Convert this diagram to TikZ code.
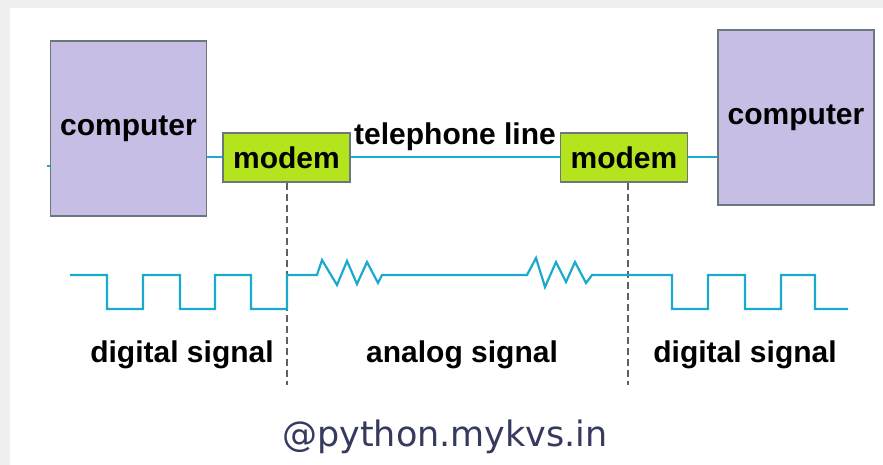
\documentclass[tikz,border=0pt]{standalone}
\usepackage{fontspec}
\setmainfont{Liberation Sans}
\newfontfamily\wmfont{DejaVu Sans}
\definecolor{bggrey}{HTML}{F0F0F0}
\definecolor{pcfill}{HTML}{C7BEE5}
\definecolor{boxedge}{HTML}{6A777C}
\definecolor{modfill}{HTML}{B4E41E}
\definecolor{sig}{HTML}{1AAACE}
\definecolor{dashgrey}{HTML}{606060}
\definecolor{wmcol}{HTML}{353A5E}
\tikzset{
  pc/.style={draw=boxedge, line width=1.5pt, fill=pcfill, minimum width=156pt, minimum height=175pt, inner sep=0pt,
    font=\fontsize{30}{32}\selectfont\bfseries},
  modembox/.style={draw=boxedge, line width=1.5pt, fill=modfill, minimum width=127pt, minimum height=49pt, inner sep=0pt,
    font=\fontsize{30}{32}\selectfont\bfseries},
  lbl/.style={font=\fontsize{30}{32}\selectfont\bfseries, inner sep=0pt},
  wire/.style={draw=sig, line width=2pt},
  sigline/.style={draw=sig, line width=2.2pt, line join=miter},
  divider/.style={draw=dashgrey, line width=1.3pt, dash pattern=on 7pt off 4pt},
}
\begin{document}
\begin{tikzpicture}[x=1pt,y=-1pt]
\useasboundingbox (0,0) rectangle (883,465);
\fill[bggrey] (0,0) rectangle (883,465);
\fill[white] (10,8) rectangle (883,465);

% nodes
\node[pc] (compL) at (128.5,128.5) {computer};
\node[pc] (compR) at (796,117.5) {computer};
\node[modembox] (modL) at (286.5,157.5) {modem};
\node[modembox] (modR) at (624,157.5) {modem};
\node[lbl] (tel) at (455,137) {telephone line};

% wires
\draw[wire] (modL.west) -- (modL.west -| compL.east);
\draw[wire] (modL.east) -- (modR.west);
\draw[wire] (modR.east) -- (modR.east -| compR.west);
\coordinate (stub) at (47,166);
\draw[wire] (stub) -- (stub -| compL.west);

% dividers
\coordinate (dL) at (287,385);
\coordinate (dR) at (628,385);
\draw[divider] (modL.south -| dL) -- (dL);
\draw[divider] (modR.south -| dR) -- (dR);

% signal
\draw[sigline] (70,275) -- (107,275) -- (107,309) -- (143,309) -- (143,275) -- (180,275)
  -- (180,309) -- (215,309) -- (215,275) -- (251,275) -- (251,309) -- (287,309) -- (287,275)
  -- (317,275) -- (322,260) -- (337,285) -- (347,261) -- (357,284) -- (367,262) -- (378,283) -- (382,275)
  -- (527,275) -- (536,258) -- (545,287) -- (556,262) -- (566,282) -- (575,262) -- (586,283) -- (592,275)
  -- (672,275) -- (672,309) -- (708,309) -- (708,275) -- (745,275) -- (745,309) -- (781,309)
  -- (781,275) -- (815,275) -- (815,309) -- (848,309);

% labels
\node[lbl] (dig1) at (182,355) {digital signal};
\node[lbl] (ana) at (462,355) {analog signal};
\node[lbl] (dig2) at (745,355) {digital signal};
\node[font=\wmfont\fontsize{35}{37}\selectfont, text=wmcol, inner sep=0pt] (wm) at (445,437) {@python.mykvs.in};
\end{tikzpicture}
\end{document}
